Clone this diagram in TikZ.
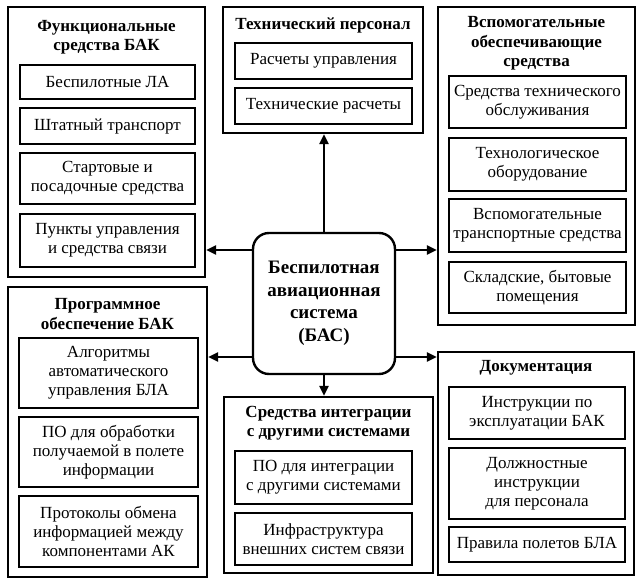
\documentclass[tikz,border=0pt]{standalone}
\usepackage{fontspec}
\setmainfont{LiberationSerif}[Extension=.ttf, UprightFont=*-Regular, BoldFont=*-Bold]
\usetikzlibrary{arrows.meta}
\tikzset{
  outer/.style={draw, line width=2.4pt, inner sep=0pt},
  inner/.style={draw, line width=1.3pt, inner sep=0pt, align=center,
    font=\fontsize{17}{19}\selectfont},
  ttl/.style={align=center, inner sep=0pt, font=\fontsize{17}{19.5}\selectfont\bfseries},
  hub/.style={draw, line width=2.4pt, rounded corners=16pt, inner sep=0pt, align=center,
    font=\fontsize{19}{22.6}\selectfont\bfseries},
  arr/.style={line width=2.4pt, -{Triangle[length=10pt,width=9pt]}}
}
\newcommand{\obox}[6]{\node[outer, minimum width=#4pt, minimum height=#5pt] (#1) at (#2,#3) {};}
\newcommand{\ibox}[7]{\node[inner, minimum width=#4pt, minimum height=#5pt] (#1) at (#2,#3) {#6};}
\begin{document}
\begin{tikzpicture}[x=1pt,y=-1pt]
\useasboundingbox (0,0) rectangle (641,585);
% outer boxes
\obox{fb}{106.5}{142}{197}{270}{}
\obox{tp}{323}{70}{200}{126}{}
\obox{vs}{536.5}{166}{197}{318}{}
\obox{po}{107.5}{432}{199}{290}{}
\obox{dc}{536}{463.5}{196}{223}{}
\obox{si}{328.5}{485}{209}{176}{}
% titles
\node[ttl] (fbt) at (106.5,37) {Функциональные\\средства БАК};
\node[ttl] (tpt) at (323,25) {Технический персонал};
\node[ttl] (vst) at (536.5,43.5) {Вспомогательные\\обеспечивающие\\средства};
\node[ttl] (pot) at (107.5,314) {Программное\\обеспечение БАК};
\node[ttl] (dct) at (536,368) {Документация};
\node[ttl] (sit) at (328.5,423) {Средства интеграции\\с другими системами};
% inner boxes
\ibox{fb1}{107.5}{82}{175}{34}{Беспилотные ЛА}{}
\ibox{fb2}{107.5}{126}{175}{36}{Штатный транспорт}{}
\ibox{fb3}{107.5}{178.5}{175}{51}{Стартовые и\\посадочные средства}{}
\ibox{fb4}{107.5}{240.5}{175}{53}{Пункты управления\\и средства связи}{}
\ibox{tp1}{323.5}{61}{177}{36}{Расчеты управления}{}
\ibox{tp2}{323.5}{106}{177}{36}{Технические расчеты}{}
\ibox{vs1}{537.5}{102}{177}{52}{Средства технического\\обслуживания}{}
\ibox{vs2}{537.5}{164.5}{177}{53}{Технологическое\\оборудование}{}
\ibox{vs3}{537.5}{225.5}{177}{53}{Вспомогательные\\транспортные средства}{}
\ibox{vs4}{537.5}{287.5}{177}{51}{Складские, бытовые\\помещения}{}
\ibox{po1}{108.5}{373}{179}{70}{Алгоритмы\\автоматического\\управления БЛА}{}
\ibox{po2}{108.5}{452}{179}{70}{ПО для обработки\\получаемой в полете\\информации}{}
\ibox{po3}{108.5}{531.5}{179}{71}{Протоколы обмена\\информацией между\\компонентами АК}{}
\ibox{dc1}{537}{413}{176}{52}{Инструкции по\\эксплуатации БАК}{}
\ibox{dc2}{537}{483.5}{176}{71}{Должностные\\инструкции\\для персонала}{}
\ibox{dc3}{537}{544.5}{176}{35}{Правила полетов БЛА}{}
\ibox{si1}{323.5}{477.5}{177}{53}{ПО для интеграции\\с другими системами}{}
\ibox{si2}{323.5}{539}{177}{52}{Инфраструктура\\внешних систем связи}{}
% hub
\node[hub, minimum width=142pt, minimum height=141pt] (c) at (324,303.5)
  {Беспилотная\\авиационная\\система\\(БАС)};
% arrows
\draw[arr] (c.west |- 0,250) -- (fb.east |- 0,250);
\draw[arr] (c.east |- 0,250) -- (vs.west |- 0,250);
\draw[arr] (c.west |- 0,357) -- (po.east |- 0,357);
\draw[arr] (c.east |- 0,357) -- (dc.west |- 0,357);
\draw[arr] (c.north) -- (c.north |- tp.south);
\draw[arr] (c.south) -- (c.south |- si.north);
\end{tikzpicture}
\end{document}
